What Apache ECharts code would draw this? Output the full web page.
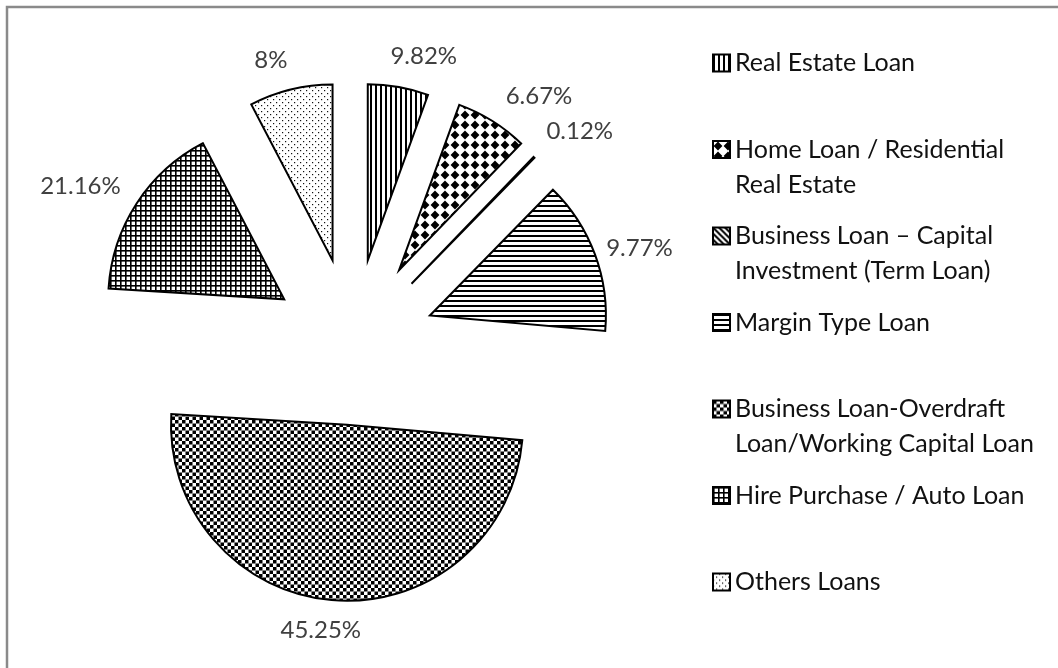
<!DOCTYPE html>
<html><head><meta charset="utf-8">
<script src="https://cdn.jsdelivr.net/npm/echarts@6/dist/echarts.min.js"></script>
<style>html,body{margin:0;padding:0;background:#fff}#chart{width:1058px;height:668px}</style>
</head><body><div id="chart"></div>
<script>
// ---- data ----
const categories = [
  'Real Estate Loan',
  'Home Loan / Residential Real Estate',
  'Business Loan – Capital Investment (Term Loan)',
  'Margin Type Loan',
  'Business Loan-Overdraft Loan/Working Capital Loan',
  'Hire Purchase / Auto Loan',
  'Others Loans'
];
// angular share of each wedge as drawn (%)
const values = [5.56, 6.64, 0.12, 14.08, 49.58, 16.39, 7.64];
// printed data labels
const valueLabels = ['9.82%', '6.67%', '0.12%', '9.77%', '45.25%', '21.16%', '8%'];
// legend text broken into lines as shown
const legendLines = [
  ['Real Estate Loan'],
  ['Home Loan / Residential', 'Real Estate'],
  ['Business Loan – Capital', 'Investment (Term Loan)'],
  ['Margin Type Loan'],
  ['Business Loan-Overdraft', 'Loan/Working Capital Loan'],
  ['Hire Purchase / Auto Loan'],
  ['Others Loans']
];

// ---- style ----
const CX = 353, CY = 344, R = 176;
const explode = [85, 87, 84, 82, 81, 82, 86];
// label placement relative to each exploded wedge: [angle offset from mid-angle (deg), distance]
const labelPlace = [[5.3, 212], [6.9, 223], [3.7, 227], [2.6, 220], [3.0, 207], [-4, 233], [-3.4, 209]];
const FONT = 'Lato';
const LEG_TOP0 = 63, LEG_STEP = 86.5, LEG_LH = 35, LEG_LEFT = 712;

function makeTile(w, h, draw) {
  const c = document.createElement('canvas');
  c.width = w; c.height = h;
  const g = c.getContext('2d');
  g.fillStyle = '#fff'; g.fillRect(0, 0, w, h);
  g.fillStyle = '#000'; g.strokeStyle = '#000';
  draw(g, w, h);
  return { image: c, repeat: 'repeat' };
}
const patterns = [
  makeTile(5, 5, g => g.fillRect(0, 0, 2, 5)),
  makeTile(10, 10, g => { g.beginPath(); g.moveTo(5, 0.6); g.lineTo(9.4, 5); g.lineTo(5, 9.4); g.lineTo(0.6, 5); g.closePath(); g.fill(); }),
  makeTile(6, 6, g => { g.lineWidth = 2; g.beginPath(); g.moveTo(-1, -1); g.lineTo(7, 7); g.moveTo(-4, 2); g.lineTo(4, 10); g.moveTo(2, -4); g.lineTo(10, 4); g.stroke(); }),
  makeTile(5, 5, g => g.fillRect(0, 0, 5, 2)),
  makeTile(7, 7, g => { g.fillRect(0, 0, 3.5, 3.5); g.fillRect(3.5, 3.5, 3.5, 3.5); }),
  makeTile(5, 5, g => { g.fillRect(0, 0, 5, 1.6); g.fillRect(0, 0, 1.6, 5); }),
  makeTile(6, 6, g => { g.fillStyle = '#111'; g.fillRect(0, 0, 1.2, 1.2); g.fillRect(3, 3, 1.2, 1.2); })
];

const total = values.reduce((a, b) => a + b, 0);
const before = [];
let acc = 0;
values.forEach(v => { before.push(acc); acc += v; });
const midRad = values.map((v, i) => (before[i] + v / 2) / total * 2 * Math.PI);
const sliceCenter = values.map((v, i) => [
  CX + Math.sin(midRad[i]) * explode[i],
  CY - Math.cos(midRad[i]) * explode[i]
]);

const legends = categories.map((name, i) => ({
  data: [{ name: name, itemStyle: { color: patterns[i] } }],
  orient: 'vertical',
  left: LEG_LEFT,
  top: LEG_TOP0 + LEG_STEP * i - 1.5 * LEG_LH,
  padding: 0,
  icon: 'rect',
  itemWidth: 17,
  itemHeight: 17,
  selectedMode: false,
  itemStyle: { borderColor: '#000', borderWidth: 2 },
  formatter: () => '\n' + legendLines[i].join('\n') + (legendLines[i].length === 1 ? '\n ' : ''),
  textStyle: { fontFamily: FONT, fontSize: 25, lineHeight: LEG_LH, color: '#111' }
}));

const series = categories.map((name, i) => ({
  type: 'pie',
  name: name,
  center: sliceCenter[i],
  radius: R,
  startAngle: 90 - before[i] / total * 360,
  clockwise: true,
  avoidLabelOverlap: false,
  emphasis: { disabled: true },
  itemStyle: { color: patterns[i], borderColor: '#000', borderWidth: 2, borderJoin: 'miter' },
  label: {
    show: true,
    position: 'outside',
    formatter: () => valueLabels[i],
    color: '#404040',
    fontFamily: FONT,
    fontSize: 24
  },
  labelLine: { show: false },
  labelLayout: p => {
    const a = midRad[i] + labelPlace[i][0] * Math.PI / 180;
    const d = labelPlace[i][1];
    return {
      x: sliceCenter[i][0] + Math.sin(a) * d,
      y: sliceCenter[i][1] - Math.cos(a) * d,
      align: 'center', verticalAlign: 'middle'
    };
  },
  data: [
    { name: name, value: values[i] },
    { name: '', value: total - values[i], itemStyle: { color: 'transparent', borderWidth: 0 }, label: { show: false }, silent: true }
  ]
}));

const chart = echarts.init(document.getElementById('chart'), null, { renderer: 'canvas' });
chart.setOption({
  animation: false,
  backgroundColor: '#fff',
  tooltip: { show: false },
  graphic: [{
    type: 'rect', silent: true, z: -10,
    shape: { x: 7, y: 7, width: 1200, height: 800 },
    style: { fill: 'none', stroke: '#8a8a8a', lineWidth: 2.5 }
  }],
  legend: legends,
  series: series
});
</script>
</body></html>
